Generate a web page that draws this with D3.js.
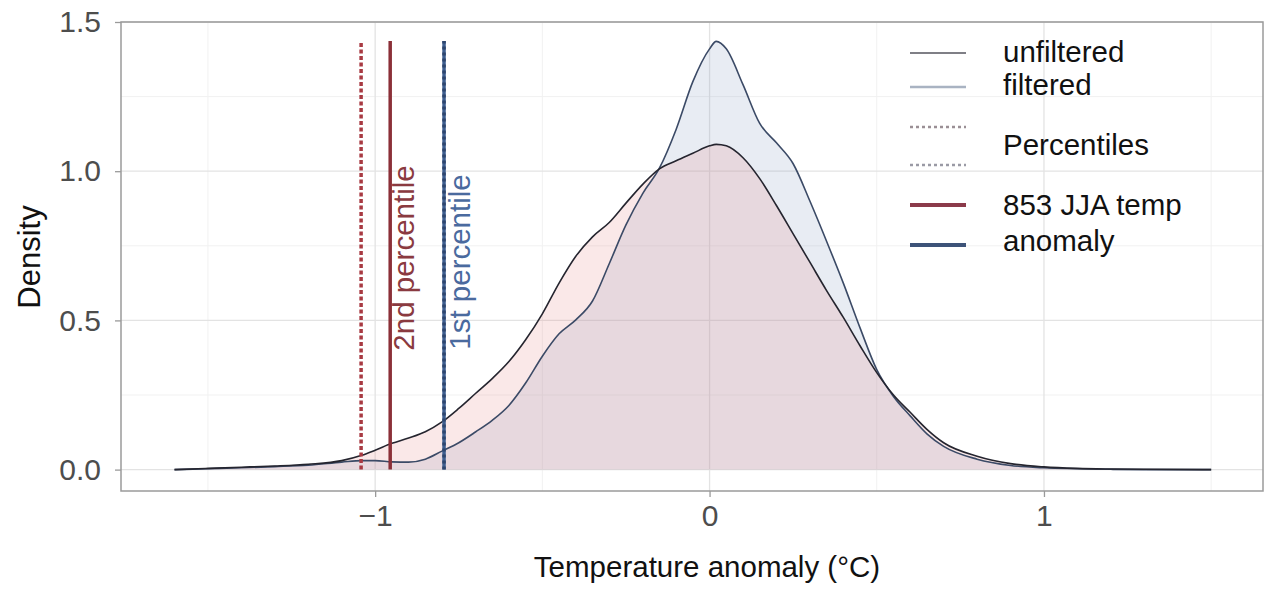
<!DOCTYPE html>
<meta charset="utf-8">
<html>
<head>
<script src="https://cdn.jsdelivr.net/npm/d3@7/dist/d3.min.js"></script>
<style>
body { margin: 0; background: #fff; }
text { font-family: "Liberation Sans", Arial, sans-serif; }
</style>
</head>
<body>
<div id="chart"></div>
<script>

// temperature anomaly grid (°C)
var anomaly = [-1.60,-1.50,-1.40,-1.30,-1.20,-1.10,-1.04,-1.00,-0.95,-0.90,-0.85,-0.80,-0.75,-0.70,-0.65,-0.60,-0.55,-0.50,-0.45,-0.40,-0.35,-0.30,-0.25,-0.20,-0.15,-0.10,-0.05,0.00,0.02,0.05,0.10,0.15,0.20,0.25,0.30,0.35,0.40,0.45,0.50,0.55,0.60,0.65,0.70,0.80,0.90,1.00,1.10,1.20,1.30,1.50];

// density
var unfiltered = [0.000,0.004,0.008,0.012,0.018,0.030,0.048,0.065,0.088,0.106,0.127,0.160,0.205,0.255,0.305,0.362,0.435,0.522,0.625,0.715,0.780,0.828,0.893,0.956,1.008,1.035,1.060,1.085,1.090,1.085,1.045,0.975,0.885,0.790,0.695,0.600,0.510,0.415,0.325,0.250,0.192,0.135,0.090,0.045,0.020,0.009,0.004,0.002,0.001,0.000];
var filtered   = [0.000,0.003,0.006,0.010,0.015,0.025,0.030,0.030,0.026,0.025,0.035,0.062,0.090,0.126,0.165,0.215,0.290,0.380,0.455,0.502,0.565,0.690,0.820,0.925,1.010,1.140,1.300,1.410,1.435,1.410,1.290,1.160,1.095,1.025,0.900,0.765,0.625,0.475,0.335,0.245,0.180,0.120,0.078,0.035,0.014,0.006,0.003,0.001,0.000,0.000];

// vertical markers
var percentileX = [-1.042, -0.794];   // unfiltered 2nd, filtered 1st
var tempX = [-0.955, -0.794];         // 853 JJA temp anomaly
var markerTop = 1.436;
var markerLabels = ["2nd percentile", "1st percentile"];

var xTicks = [-1, 0, 1];
var yTicks = [0, 0.5, 1.0, 1.5];
var xMinor = [-1.5, -0.5, 0.5, 1.5];
var yMinor = [0.25, 0.75, 1.25];

var legendLabels = ["unfiltered", "filtered", "Percentiles", "853 JJA temp", "anomaly"];

var red = "#8b3038", blue = "#3f5f90";

var W = 1267, H = 595;
var svg = d3.select("#chart").append("svg").attr("width", W).attr("height", H);

var x = d3.scaleLinear().domain([-1.76, 1.655]).range([121, 1263]);
var y = d3.scaleLinear().domain([-0.0717, 1.5]).range([491, 22]);

// grid
svg.append("g").selectAll("line").data(xMinor).join("line")
  .attr("x1", d => x(d)).attr("x2", d => x(d)).attr("y1", 22).attr("y2", 491)
  .attr("stroke", "#f1f1f1").attr("stroke-width", 1);
svg.append("g").selectAll("line").data(yMinor).join("line")
  .attr("y1", d => y(d)).attr("y2", d => y(d)).attr("x1", 121).attr("x2", 1263)
  .attr("stroke", "#f1f1f1").attr("stroke-width", 1);
svg.append("g").selectAll("line").data(xTicks).join("line")
  .attr("x1", d => x(d)).attr("x2", d => x(d)).attr("y1", 22).attr("y2", 491)
  .attr("stroke", "#e3e3e3").attr("stroke-width", 1.3);
svg.append("g").selectAll("line").data(yTicks).join("line")
  .attr("y1", d => y(d)).attr("y2", d => y(d)).attr("x1", 121).attr("x2", 1263)
  .attr("stroke", "#e3e3e3").attr("stroke-width", 1.3);

// densities
var pts = function(arr) { return anomaly.map(function(a, i) { return [a, arr[i]]; }); };
var area = d3.area().x(d => x(d[0])).y0(y(0)).y1(d => y(d[1])).curve(d3.curveMonotoneX);
var line = d3.line().x(d => x(d[0])).y(d => y(d[1])).curve(d3.curveMonotoneX);

svg.append("path").datum(pts(filtered)).attr("d", area).attr("fill", "rgb(140,160,195)").attr("fill-opacity", 0.2);
svg.append("path").datum(pts(unfiltered)).attr("d", area).attr("fill", "rgb(230,140,140)").attr("fill-opacity", 0.2);
svg.append("path").datum(pts(filtered)).attr("d", line).attr("fill", "none").attr("stroke", "#3b4a66").attr("stroke-width", 1.6);
svg.append("path").datum(pts(unfiltered)).attr("d", line).attr("fill", "none").attr("stroke", "#25252f").attr("stroke-width", 1.6);

// markers
svg.append("line").attr("x1", x(tempX[1])).attr("x2", x(tempX[1])).attr("y1", y(0)).attr("y2", y(markerTop))
  .attr("stroke", blue).attr("stroke-width", 3.5);
svg.append("line").attr("x1", x(percentileX[1])).attr("x2", x(percentileX[1])).attr("y1", y(0)).attr("y2", y(markerTop))
  .attr("stroke", "#2e466e").attr("stroke-width", 3.5).attr("stroke-dasharray", "3,3");
svg.append("line").attr("x1", x(percentileX[0])).attr("x2", x(percentileX[0])).attr("y1", y(0)).attr("y2", y(markerTop))
  .attr("stroke", "#a83a42").attr("stroke-width", 3.5).attr("stroke-dasharray", "4,2.5");
svg.append("line").attr("x1", x(tempX[0])).attr("x2", x(tempX[0])).attr("y1", y(0)).attr("y2", y(markerTop))
  .attr("stroke", red).attr("stroke-width", 3.5);

svg.append("text").attr("transform", "translate(" + (x(tempX[0]) + 24) + ",258) rotate(-90)")
  .attr("text-anchor", "middle").attr("font-size", 29.5).attr("fill", "#8a3a40").text(markerLabels[0]);
svg.append("text").attr("transform", "translate(" + (x(tempX[1]) + 26) + ",262) rotate(-90)")
  .attr("text-anchor", "middle").attr("font-size", 29.5).attr("fill", "#4a6a9e").text(markerLabels[1]);

// panel border
svg.append("rect").attr("x", 121).attr("y", 22).attr("width", 1263 - 121).attr("height", 491 - 22)
  .attr("fill", "none").attr("stroke", "#9a9a9a").attr("stroke-width", 1.5);

// axes
var xAxis = svg.append("g").attr("transform", "translate(0,491)")
  .call(d3.axisBottom(x).tickValues(xTicks).tickSize(6).tickPadding(8).tickFormat(d => d < 0 ? "\u2212" + Math.abs(d) : d));
var yAxis = svg.append("g").attr("transform", "translate(121,0)")
  .call(d3.axisLeft(y).tickValues(yTicks).tickSize(6).tickPadding(14).tickFormat(d3.format(".1f")));
[xAxis, yAxis].forEach(function(g) {
  g.select(".domain").remove();
  g.selectAll(".tick line").attr("stroke", "#9a9a9a").attr("stroke-width", 1.3);
  g.selectAll(".tick text").attr("fill", "#4d4d4d").attr("font-size", 30).attr("font-family", "Liberation Sans, Arial, sans-serif");
});

svg.append("text").attr("x", 707).attr("y", 577).attr("text-anchor", "middle")
  .attr("font-size", 29.5).attr("fill", "#111").text("Temperature anomaly (\u00b0C)");
svg.append("text").attr("transform", "translate(40,257) rotate(-90)").attr("text-anchor", "middle")
  .attr("font-size", 31).attr("fill", "#111").text("Density");

// legend
var lg = svg.append("g");
var keyX1 = 910, keyX2 = 966, textX = 1003;
var rows = [
  {y: 53, stroke: "#55555e", w: 1.6, dash: null},
  {y: 87, stroke: "#a9b3c2", w: 2.5, dash: null},
  {y: 127, stroke: "#9a8f95", w: 2.5, dash: "3,3"},
  {y: 165, stroke: "#9a9aa5", w: 2.5, dash: "3,3"},
  {y: 205, stroke: "#8b3a4a", w: 4, dash: null},
  {y: 245, stroke: "#3d5378", w: 4, dash: null}
];
lg.selectAll("line").data(rows).join("line")
  .attr("x1", keyX1).attr("x2", keyX2).attr("y1", d => d.y).attr("y2", d => d.y)
  .attr("stroke", d => d.stroke).attr("stroke-width", d => d.w).attr("stroke-dasharray", d => d.dash);
var textY = [52, 85, 145, 205, 241];
lg.selectAll("text").data(legendLabels).join("text")
  .attr("x", textX).attr("y", (d, i) => textY[i]).attr("dy", "0.35em")
  .attr("font-size", 29.5).attr("fill", "#111").text(d => d);

</script>
</body>
</html>
